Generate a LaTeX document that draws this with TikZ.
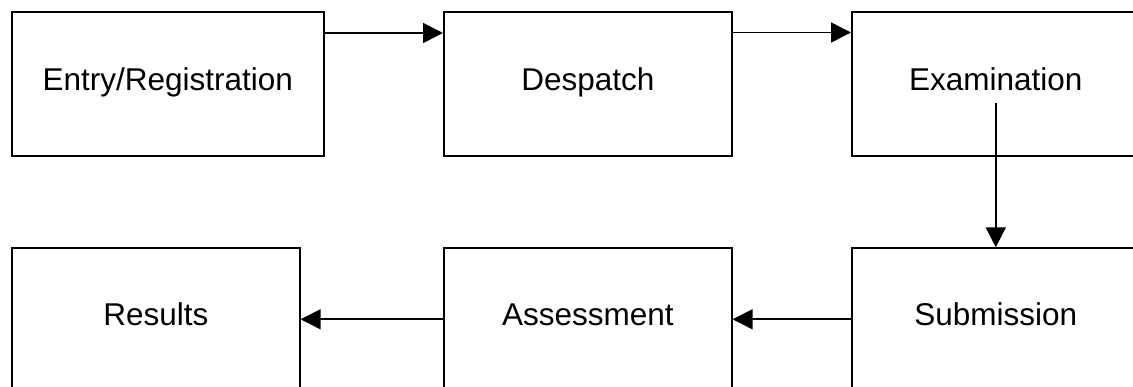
\documentclass[tikz,border=0pt]{standalone}
\usepackage{fontspec}
\setmainfont{Liberation Sans}
\usetikzlibrary{arrows.meta}
\begin{document}
\begin{tikzpicture}[x=1pt,y=-1pt,
  box/.style={draw=black,line width=1.6pt,rectangle,minimum height=143.5pt,
    inner sep=0pt,anchor=north west,font=\fontsize{31.5}{36}\selectfont,
    text height=23pt,text depth=11pt},
  wbox/.style={box,minimum width=312pt},
  nbox/.style={box,minimum width=288pt},
  conn/.style={line width=1.6pt,-{Triangle[length=20pt,width=20pt]}}]
\useasboundingbox (0,0) rectangle (1133,387);
\clip (0,0) rectangle (1133,387);
\node[wbox] (e) at (11,11.5) {Entry/Registration};
\node[nbox] (d) at (443,11.5) {Despatch};
\node[nbox] (x) at (851,11.5) {Examination};
\node[nbox] (r) at (11,247.3) {Results};
\node[nbox] (a) at (443,247.3) {Assessment};
\node[nbox] (s) at (851,247.3) {Submission};
\draw[conn] ([yshift=-21.5pt]e.north east) -- ([yshift=-21.5pt]d.north west);
\draw[conn] ([yshift=-21pt]d.north east) -- ([yshift=-21pt]x.north west);
\draw[conn] ([yshift=-91.5pt]x.north) -- (s.north);
\draw[conn] ([yshift=-72pt]s.north west) -- ([yshift=-72pt]a.north east);
\draw[conn] ([yshift=-72pt]a.north west) -- ([yshift=-72pt]r.north east);
\end{tikzpicture}
\end{document}
